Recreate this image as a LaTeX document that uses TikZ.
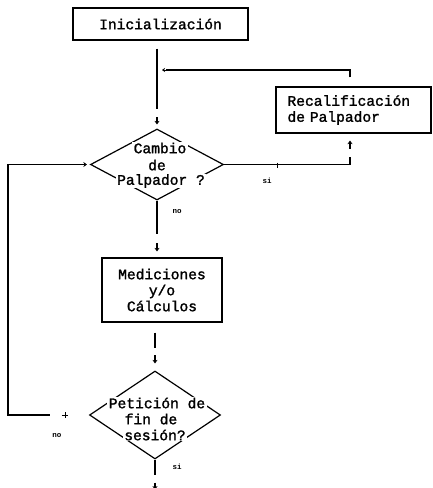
\documentclass[tikz,border=0pt]{standalone}
\usepackage{fontspec}
\usetikzlibrary{shapes.geometric,arrows.meta,calc}
\newfontfamily\tw{Liberation Mono}[FakeBold=1.5]
\newfontfamily\twsmall{Liberation Mono}

\begin{document}
\begin{tikzpicture}[x=1pt,y=-1pt,
  ln/.style={line width=1.2pt},
  box/.style={draw,line width=1.2pt,inner sep=0pt,
    font=\tw\fontsize{14.6}{16}\selectfont},
  dec/.style={draw,diamond,line width=1.2pt,inner sep=0pt},
  dtext/.style={fill=white,inner xsep=1.5pt,inner ysep=0.5pt,
    font=\tw\fontsize{14.6}{16}\selectfont},
  lbl/.style={font=\twsmall\bfseries\fontsize{7.5}{7.5}\selectfont,inner sep=0pt},
  arr/.style={line width=1.1pt,-{Stealth[length=3.5pt,width=5pt]}},
  tickmark/.style={line width=0.8pt}]

\useasboundingbox (0,0) rectangle (432,488);

% boxes and decisions
\node[box,minimum width=175pt,minimum height=32pt] (init) at (160.5,24) {Inicialización};

\node[dec,minimum width=133pt,minimum height=71pt] (d1) at (157,164.5) {};
\node[dtext] (d1a) at (160,148) {Cambio};
\node[dtext] (d1b) at (157,165) {de};
\node[dtext] (d1c) at (161,181) {Palpador ?};

\node[box,minimum width=155pt,minimum height=46pt,text width=132pt,
  inner xsep=11.5pt,align=left] (recal) at (353.5,110)
  {Recalificación\\de Palpador};

\node[box,minimum width=120pt,minimum height=64pt,align=center] (med) at (162,290)
  {Mediciones\\y/o\\Cálculos};

\node[dec,minimum width=131pt,minimum height=88pt] (d2) at (155,415) {};
\node[dtext] (d2a) at (157,403) {Petición de};
\node[dtext] (d2b) at (151,419) {fin de};
\node[dtext] (d2c) at (155,435) {sesión?};

% helper coordinates
\coordinate (rx) at (350,0);
\coordinate (lx) at (8,0);
\coordinate (j1) at (157,70);

% Inicialización -> Cambio de Palpador
\draw[ln] ($(init.south -| d1.north)+(0,8)$) -- ($(d1.north)+(0,-19)$);
\draw[arr] ($(d1.north)+(0,-11)$) -- ($(d1.north)+(0,-4)$);

% Recalificación -> back to main line
\draw[ln] ($(recal.north -| rx)+(0,-9)$) |- ($(j1)+(9,0)$);
\draw[line width=1pt,-{Stealth[length=3pt,width=4pt]}] ($(j1)+(10,0)$) -- ($(j1)+(5,0)$);

% Cambio de Palpador --si--> Recalificación
\draw[ln] (d1.east) -- (d1.east -| rx) -- ++(0,-8);
\draw[tickmark] (277,162.5) -- (277,167.5);
\draw[arr] ($(recal.south -| rx)+(0,15)$) -- ($(recal.south -| rx)+(0,7)$);
\node[lbl] (si1) at (267,181) {si};

% Cambio de Palpador --no--> Mediciones
\draw[ln] (d1.south) -- ($(med.north -| d1.south)+(0,-23)$);
\draw[arr] ($(med.north -| d1.south)+(0,-14)$) -- ($(med.north -| d1.south)+(0,-6)$);
\node[lbl] (no1) at (177,212) {no};

% Mediciones -> Petición de fin de sesión
\draw[ln] ($(med.south -| d2.north)+(0,10)$) -- ($(med.south -| d2.north)+(0,25)$);
\draw[arr] ($(d2.north)+(0,-15)$) -- ($(d2.north)+(0,-7)$);

% Petición de fin de sesión --no--> Cambio de Palpador
\draw[ln] ($(d2.west)+(-39,0)$) -- (d2.west -| lx) |- ($(d1.west)+(-9,0)$);
\draw[line width=1pt,-{Stealth[length=3.5pt,width=5pt]}] ($(d1.west)+(-10,0)$) -- ($(d1.west)+(-3,0)$);
\draw[tickmark] ($(d2.west)+(-27,0)$) -- ($(d2.west)+(-21,0)$)
            ($(d2.west)+(-24,-3)$) -- ($(d2.west)+(-24,3)$);
\node[lbl] (no2) at (57,436) {no};

% Petición de fin de sesión --si--> end
\draw[ln] (d2.south) -- ++(0,15);
\draw[arr] ($(d2.south)+(0,23)$) -- ($(d2.south)+(0,30)$);
\node[lbl] (si2) at (177,467) {si};

\end{tikzpicture}
\end{document}
